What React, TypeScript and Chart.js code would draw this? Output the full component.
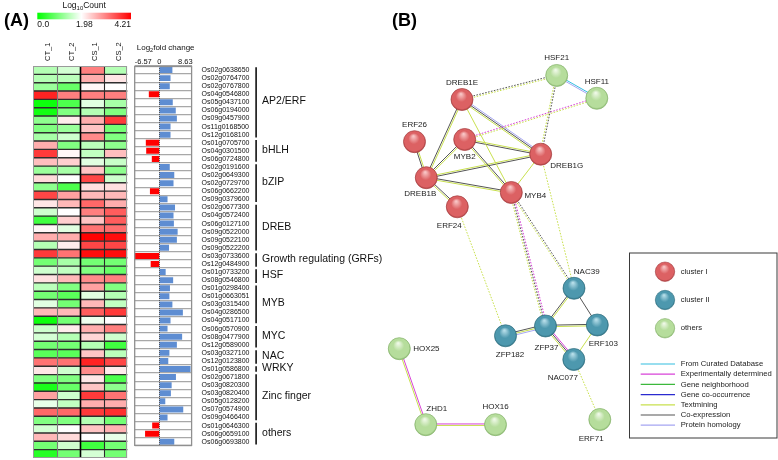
import React, { useEffect, useRef } from "react";
import { Chart, registerables } from "chart.js";
Chart.register(...registerables);

const FONT = "'Liberation Sans', Arial, Helvetica, sans-serif";
Chart.defaults.font.family = FONT;

// ---------- Panel A data ----------
const genes = [
  "Os02g0638650","Os02g0764700","Os02g0767800","Os04g0546800","Os05g0437100","Os06g0194000","Os09g0457900","Os11g0168500","Os12g0168100",
  "Os01g0705700","Os04g0301500","Os06g0724800",
  "Os02g0191600","Os02g0649300","Os02g0729700","Os06g0662200","Os09g0379600",
  "Os02g0677300","Os04g0572400","Os06g0127100","Os09g0522000","Os09g0522100","Os09g0522200",
  "Os03g0733600","Os12g0484900",
  "Os01g0733200","Os08g0546800",
  "Os01g0298400","Os01g0663051","Os03g0315400","Os04g0286500","Os04g0517100",
  "Os06g0570900","Os08g0477900","Os12g0589000",
  "Os03g0327100","Os12g0123800",
  "Os01g0586800",
  "Os02g0671800","Os03g0820300","Os03g0820400","Os05g0128200","Os07g0574900","Os09g0466400",
  "Os01g0646300","Os06g0659100","Os06g0693800",
];
const sampleLabels = ["CT_1", "CT_2", "CS_1", "CS_2"];
const ct1 = [1.4,1.4,1.2,3.9,0.1,0.15,1.1,1.0,1.3, 2.7,3.7,2.55, 1.2,2.3,1.1,3.6,2.2, 1.6,0.5,2.05,2.7,1.4,3.7, 0.9,1.6, 2.25,1.45, 0.9,1.75,2.6,0.1,1.6, 1.65,0.9,0.7, 3.2,2.2, 1.0, 0.2,2.8,1.8,3.3,1.0,1.65, 2.6,0.9,0.3];
const ct2 = [1.65,1.45,0.8,3.1,0.6,1.0,2.15,1.2,1.6, 1.0,2.05,2.4, 1.3,1.98,0.6,2.8,2.6, 1.98,2.4,1.75,2.7,2.15,3.2, 1.3,1.5, 2.6,1.0, 0.7,0.9,2.6,0.9,2.15, 1.4,0.9,0.7, 3.2,1.6, 1.0, 0.8,1.6,1.5,3.3,1.0,1.98, 2.3,1.6,0.9];
const cs1 = [3.1,2.7,2.05,3.1,1.75,1.4,2.7,2.5,3.0, 1.45,1.5,1.75, 2.5,3.6,2.25,2.6,3.3, 3.1,2.5,3.2,4.2,3.6,4.1, 0.9,1.0, 3.0,2.8, 1.75,2.6,3.4,1.85,2.7, 2.35,1.4,2.5, 3.9,3.0, 2.2, 2.5,3.7,2.7,3.7,1.4,2.5, 1.98,0.5,1.65];
const cs2 = [1.4,2.2,1.98,3.1,1.3,1.0,3.7,0.9,1.0, 1.1,2.55,1.55, 1.1,1.6,2.25,2.6,2.7, 3.4,3.4,3.25,4.1,3.6,4.1, 0.9,0.8, 3.1,1.0, 1.4,1.5,3.7,1.98,3.1, 1.6,0.5,1.45, 3.6,2.15, 0.6, 1.1,3.2,2.7,3.8,0.9,2.65, 1.8,0.9,0.9];
const foldChange = [3.5,3.0,2.8,-2.8,3.6,4.4,4.7,3.0,3.0, -3.6,-3.5,-2.0, 2.8,4.0,3.8,-2.5,2.2, 4.2,3.8,3.9,4.9,4.7,2.6, -6.57,-2.3, 1.7,3.7, 2.85,2.7,3.5,6.3,3.0, 2.2,6.1,4.7, 2.7,2.4, 8.35, 4.45,3.3,3.1,1.6,6.4,2.2, -1.9,-3.8,4.0];
const groupNames = ["AP2/ERF","bHLH","bZIP","DREB","Growth regulating (GRFs)","HSF","MYB","MYC","NAC","WRKY","Zinc finger","others"];
const groupSizes = [9,3,5,6,2,2,5,3,2,1,6,3];
const countMin = 0, countMid = 1.98, countMax = 4.21;
const countTickLabels = ["0.0", "1.98", "4.21"];
const foldMin = -6.57, foldMax = 8.63;
const foldTickLabels = ["-6.57", "0", "8.63"];

// ---------- Panel B data ----------
const nodeNames = ["HSF21","HSF11","DREB1E","ERF26","MYB2","DREB1G","DREB1B","ERF24","MYB4","NAC39","ERF103","ZFP37","ZFP182","NAC077","HOX25","ZHD1","HOX16","ERF71"];
const nodeX = [556.7,596.8,462,414.5,464.7,540.7,426.3,457.3,511.3,574,597.3,545.5,505.5,573.8,399.3,425.8,495.5,599.8];
const nodeY = [75.5,98.3,99.5,141.7,139.5,154.2,177.7,206.8,192.5,288.3,325,326,335.8,359.5,348.7,424.7,424.7,419.5];
const nodeCluster = [2,2,0,0,0,0,0,0,0,1,1,1,1,1,2,2,2,2];
const clusterNames = ["cluster I", "cluster II", "others"];
// [from, to, evidence channels, dotted]
const edges: [string, string, string, boolean][] = [
  ["DREB1E","HSF21","xt",true],
  ["HSF21","HSF11","ch",false],
  ["HSF21","DREB1G","xt",true],
  ["MYB2","HSF11","et",true],
  ["DREB1E","DREB1G","hxt",false],
  ["DREB1E","DREB1B","tx",false],
  ["DREB1E","MYB4","t",false],
  ["MYB2","DREB1G","tx",false],
  ["MYB2","MYB4","xt",false],
  ["MYB2","DREB1B","tx",false],
  ["DREB1B","DREB1G","tx",false],
  ["DREB1B","MYB4","xt",false],
  ["DREB1B","ERF26","xt",false],
  ["DREB1B","ERF24","xt",false],
  ["DREB1G","MYB4","t",false],
  ["DREB1G","NAC39","t",true],
  ["MYB4","ZFP37","ext",true],
  ["MYB4","NAC39","xt",true],
  ["ERF24","ZFP182","t",true],
  ["NAC39","ZFP37","tx",false],
  ["NAC39","ERF103","x",false],
  ["ZFP37","ERF103","xt",false],
  ["ZFP37","ZFP182","htx",false],
  ["ZFP37","NAC077","ext",false],
  ["ERF103","NAC077","t",false],
  ["NAC077","ERF71","t",true],
  ["HOX25","ZHD1","et",false],
  ["ZHD1","HOX16","et",false],
];
const evidenceKeys = ["c","e","n","o","t","x","h"];
const evidenceNames = ["From Curated Database","Experimentally determined","Gene neighborhood","Gene co-occurrence","Textmining","Co-expression","Protein homology"];
const evidenceColors = ["#33bde0","#d843d8","#3cb83c","#2b2bd0","#c8e04e","#555555","#a6a6f2"];

// ---------- styles ----------
const sphereStyles = [
  { light: "#f8c4c4", base: "#dc6163", dark: "#a83d3f" },
  { light: "#b5dde8", base: "#4d98ae", dark: "#2e6e80" },
  { light: "#eef8e6", base: "#b6dd9c", dark: "#86b46c" },
];

function heatColor(v: number) {
  if (v <= countMid) {
    const t = Math.max(0, (v - countMin) / (countMid - countMin));
    const c = Math.round(255 * t);
    return `rgb(${c},255,${c})`;
  }
  const t = Math.min(1, (v - countMid) / (countMax - countMid));
  const c = Math.round(255 * (1 - t));
  return `rgb(255,${c},${c})`;
}

function sphereGradient(ctx: CanvasRenderingContext2D, x: number, y: number, r: number, s: { light: string; base: string; dark: string }) {
  const g = ctx.createRadialGradient(x - r * 0.1, y - r * 0.5, r * 0.05, x, y, r * 1.05);
  g.addColorStop(0, s.light);
  g.addColorStop(0.45, s.base);
  g.addColorStop(0.85, s.base);
  g.addColorStop(1, s.dark);
  return g;
}

function drawRich(ctx: CanvasRenderingContext2D, parts: { t: string; sub?: boolean }[], x: number, y: number, size: number, align: "center" | "left") {
  const widths = parts.map((p) => {
    ctx.font = `${p.sub ? size * 0.7 : size}px ${FONT}`;
    return ctx.measureText(p.t).width;
  });
  const total = widths.reduce((a, b) => a + b, 0);
  let cx = align === "center" ? x - total / 2 : x;
  ctx.textAlign = "left";
  ctx.textBaseline = "alphabetic";
  parts.forEach((p, i) => {
    ctx.font = `${p.sub ? size * 0.7 : size}px ${FONT}`;
    ctx.fillText(p.t, cx, p.sub ? y + size * 0.28 : y);
    cx += widths[i];
  });
}

function line(ctx: CanvasRenderingContext2D, x1: number, y1: number, x2: number, y2: number) {
  ctx.beginPath();
  ctx.moveTo(x1, y1);
  ctx.lineTo(x2, y2);
  ctx.stroke();
}

// ---------- plugins ----------
const heatDecor = {
  id: "heatDecor",
  afterDatasetsDraw(chart: any) {
    const ctx = chart.ctx;
    const a = chart.chartArea;
    const xs = chart.scales.x;
    const n = genes.length;
    const rowH = (a.bottom - a.top) / n;
    ctx.save();
    ctx.setLineDash([]);
    ctx.strokeStyle = "#2e2e2e";
    ctx.lineWidth = 1.4;
    ctx.beginPath();
    for (let i = 1; i < n; i++) {
      const yy = a.top + i * rowH;
      ctx.moveTo(a.left, yy);
      ctx.lineTo(a.right, yy);
    }
    ctx.stroke();
    const colStyles = ["", "#7a7a7a", "#000000", "#2a2a2a"];
    for (let j = 1; j < sampleLabels.length; j++) {
      const xx = Math.round(xs.getPixelForValue(j)) + 0.5;
      ctx.lineWidth = j === 2 ? 1.6 : 1.1;
      ctx.strokeStyle = colStyles[j];
      line(ctx, xx, a.top, xx, a.bottom);
    }
    ctx.strokeStyle = "#9a9a9a";
    ctx.lineWidth = 1;
    ctx.strokeRect(Math.round(a.left) + 0.5, Math.round(a.top) + 0.5, Math.round(a.right - a.left) - 1, Math.round(a.bottom - a.top) - 1);
    ctx.restore();
  },
  afterDraw(chart: any) {
    const { ctx, scales } = chart;
    const xs = scales.x;
    ctx.save();
    ctx.fillStyle = "#000";
    ctx.font = `bold 18px ${FONT}`;
    ctx.textAlign = "left";
    ctx.textBaseline = "alphabetic";
    ctx.fillText("(A)", 4, 26);
    const x0 = 37.3, x1 = 131, y0 = 12.7, y1 = 19.3;
    const g = ctx.createLinearGradient(x0, 0, x1, 0);
    g.addColorStop(0, heatColor(countMin));
    g.addColorStop((countMid - countMin) / (countMax - countMin), heatColor(countMid));
    g.addColorStop(1, heatColor(countMax));
    ctx.fillStyle = g;
    ctx.fillRect(x0, y0, x1 - x0, y1 - y0);
    ctx.fillStyle = "#111";
    drawRich(ctx, [{ t: "Log" }, { t: "10", sub: true }, { t: "Count" }], (x0 + x1) / 2, 7.5, 8.5, "center");
    ctx.font = `8.5px ${FONT}`;
    ctx.textBaseline = "alphabetic";
    const vals = [countMin, countMid, countMax];
    vals.forEach((v, i) => {
      const px = x0 + ((v - countMin) / (countMax - countMin)) * (x1 - x0);
      ctx.textAlign = i === 0 ? "left" : i === 2 ? "right" : "center";
      ctx.fillText(countTickLabels[i], i === 1 ? px + 3 : px, 27);
    });
    ctx.font = `7.5px ${FONT}`;
    ctx.textAlign = "left";
    ctx.textBaseline = "middle";
    sampleLabels.forEach((s, j) => {
      const cx = xs.getPixelForValue(j + 0.5) + 3;
      ctx.save();
      ctx.translate(cx, 61);
      ctx.rotate(-Math.PI / 2);
      ctx.fillText(s, 0, 0);
      ctx.restore();
    });
    ctx.restore();
  },
};

const foldDecor = {
  id: "foldDecor",
  afterDatasetsDraw(chart: any) {
    const { ctx, chartArea: a, scales } = chart;
    const z = scales.x.getPixelForValue(0);
    ctx.save();
    ctx.strokeStyle = "#555";
    ctx.lineWidth = 1;
    ctx.setLineDash([1, 1]);
    line(ctx, Math.round(z) + 0.5, a.top, Math.round(z) + 0.5, a.bottom);
    ctx.setLineDash([]);
    ctx.strokeStyle = "#8f8f8f";
    ctx.lineWidth = 1.3;
    ctx.strokeRect(a.left, a.top + 0.5, a.right - a.left, a.bottom - a.top - 1);
    ctx.restore();
  },
  afterDraw(chart: any) {
    const { ctx, chartArea: a, scales } = chart;
    const xs = scales.x;
    const n = genes.length;
    const rowH = (a.bottom - a.top) / n;
    ctx.save();
    ctx.fillStyle = "#111";
    drawRich(ctx, [{ t: "Log" }, { t: "2", sub: true }, { t: "fold change" }], (a.left + a.right) / 2 + 2.5, 50, 8, "center");
    ctx.font = `7.5px ${FONT}`;
    ctx.textBaseline = "alphabetic";
    ctx.textAlign = "left";
    ctx.fillText(foldTickLabels[0], xs.getPixelForValue(foldMin), 64);
    ctx.textAlign = "center";
    ctx.fillText(foldTickLabels[1], xs.getPixelForValue(0), 64);
    ctx.textAlign = "right";
    ctx.fillText(foldTickLabels[2], xs.getPixelForValue(foldMax) + 1, 64);
    const bx = a.right + 64.5;
    let start = 0;
    ctx.strokeStyle = "#000";
    ctx.lineWidth = 1.5;
    ctx.font = `10.5px ${FONT}`;
    ctx.textAlign = "left";
    ctx.textBaseline = "middle";
    groupSizes.forEach((cnt, gi) => {
      const top = a.top + start * rowH + 1.3;
      const bot = a.top + (start + cnt) * rowH - 1.3;
      line(ctx, bx, top, bx, bot);
      ctx.fillText(groupNames[gi], bx + 6, (top + bot) / 2 - 1);
      start += cnt;
    });
    ctx.restore();
  },
};

const NET_LEFT = 380;
const labelOffsets: Record<string, [number, number, string]> = {
  HSF21: [0, -17.5, "center"], HSF11: [0, -17, "center"], DREB1E: [0, -17, "center"], ERF26: [0, -17, "center"],
  MYB2: [0, 17.5, "center"], DREB1G: [26, 11.5, "center"], DREB1B: [-6, 16.5, "center"], ERF24: [-8, 18.5, "center"],
  MYB4: [24, 3.5, "center"], NAC39: [12.7, -16.5, "center"], ERF103: [6, 18.3, "center"], ZFP37: [1, 21.5, "center"],
  ZFP182: [4.5, 19, "center"], NAC077: [-11, 18, "center"], HOX25: [14, 0, "left"], ZHD1: [11, -15.5, "center"],
  HOX16: [0, -17.5, "center"], ERF71: [-8.6, 19.2, "center"],
};

const netDecor = {
  id: "netDecor",
  afterDatasetsDraw(chart: any) {
    const { ctx, scales } = chart;
    const xs = scales.x, ys = scales.y;
    ctx.save();
    ctx.fillStyle = "#222";
    ctx.font = `8px ${FONT}`;
    ctx.textBaseline = "middle";
    nodeNames.forEach((n, i) => {
      const [dx, dy, al] = labelOffsets[n];
      ctx.textAlign = al as CanvasTextAlign;
      ctx.fillText(n, xs.getPixelForValue(nodeX[i]) + dx, ys.getPixelForValue(nodeY[i]) + dy);
    });
    ctx.restore();
  },
  afterDraw(chart: any) {
    const { ctx } = chart;
    ctx.save();
    ctx.translate(-NET_LEFT, 0);
    ctx.fillStyle = "#000";
    ctx.font = `bold 18px ${FONT}`;
    ctx.textAlign = "left";
    ctx.textBaseline = "alphabetic";
    ctx.fillText("(B)", 392, 26);
    ctx.strokeStyle = "#3a3a3a";
    ctx.lineWidth = 1;
    ctx.strokeRect(629.5, 253, 147.5, 185);
    ctx.font = `7.7px ${FONT}`;
    ctx.textBaseline = "middle";
    clusterNames.forEach((c, i) => {
      const cy = 271.7 + i * 28.3;
      ctx.beginPath();
      ctx.arc(665, cy, 9.7, 0, Math.PI * 2);
      ctx.fillStyle = sphereGradient(ctx, 665, cy, 9.7, sphereStyles[i]);
      ctx.fill();
      ctx.strokeStyle = sphereStyles[i].dark;
      ctx.lineWidth = 0.6;
      ctx.stroke();
      ctx.fillStyle = "#222";
      ctx.fillText(c, 680.7, cy);
    });
    evidenceNames.forEach((nm, i) => {
      const y = 364 + i * 10.2;
      ctx.strokeStyle = evidenceColors[i];
      ctx.lineWidth = 1.2;
      line(ctx, 640.7, y, 675, y);
      ctx.fillStyle = "#222";
      ctx.fillText(nm, 680.7, y);
    });
    ctx.restore();
  },
};

export default function App() {
  const heatRef = useRef<HTMLCanvasElement>(null);
  const foldRef = useRef<HTMLCanvasElement>(null);
  const netRef = useRef<HTMLCanvasElement>(null);

  useEffect(() => {
    const samples = [ct1, ct2, cs1, cs2];
    const heat = new Chart(heatRef.current!, {
      type: "bar",
      data: {
        labels: genes,
        datasets: sampleLabels.map((s, i) => ({
          label: s,
          data: genes.map(() => 1),
          backgroundColor: samples[i].map(heatColor),
          borderWidth: 0,
          barPercentage: 1,
          categoryPercentage: 1,
        })),
      },
      options: {
        indexAxis: "y",
        animation: false,
        responsive: false,
        events: [],
        layout: { autoPadding: false, padding: { left: 33.3, right: 200 - 127.3, top: 66, bottom: 2 } },
        scales: {
          x: { stacked: true, min: 0, max: sampleLabels.length, display: false },
          y: { stacked: true, display: false },
        },
        plugins: { legend: { display: false }, tooltip: { enabled: false } },
      },
      plugins: [heatDecor],
    } as any);

    const FOLD_W = 270;
    const fold = new Chart(foldRef.current!, {
      type: "bar",
      data: {
        labels: genes,
        datasets: [
          {
            label: "Log2 fold change",
            data: foldChange,
            backgroundColor: foldChange.map((v) => (v < 0 ? "#ff0000" : "#5e8dd2")),
            borderWidth: 0,
            barPercentage: 0.74,
            categoryPercentage: 1,
          },
        ],
      },
      options: {
        indexAxis: "y",
        animation: false,
        responsive: false,
        events: [],
        layout: { autoPadding: false, padding: { left: 6.7, right: 0, top: 66, bottom: 2 } },
        scales: {
          x: { min: foldMin, max: foldMax, display: false },
          y: {
            position: "right",
            grid: { offset: true, drawTicks: false, color: "#a8a8a8", lineWidth: 1.3 },
            border: { display: false },
            ticks: { autoSkip: false, padding: 10, color: "#111", font: { size: 7, family: FONT } },
            afterFit: (s: any) => {
              s.width = FOLD_W - 63.6;
            },
          },
        },
        plugins: { legend: { display: false }, tooltip: { enabled: false } },
      },
      plugins: [foldDecor],
    } as any);

    const nodeIndex: Record<string, number> = {};
    nodeNames.forEach((n, i) => (nodeIndex[n] = i));
    const edgeSets: any[] = [];
    edges.forEach(([a, b, ch, dotted]) => {
      const i = nodeIndex[a], j = nodeIndex[b];
      const x1 = nodeX[i], y1 = nodeY[i], x2 = nodeX[j], y2 = nodeY[j];
      const len = Math.hypot(x2 - x1, y2 - y1);
      const nx = -(y2 - y1) / len, ny = (x2 - x1) / len;
      const k = ch.length;
      ch.split("").forEach((c, m) => {
        const off = (m - (k - 1) / 2) * 1.5;
        edgeSets.push({
          label: `${a}-${b}-${c}`,
          data: [
            { x: x1 + nx * off, y: y1 + ny * off },
            { x: x2 + nx * off, y: y2 + ny * off },
          ],
          showLine: true,
          pointRadius: 0,
          borderColor: evidenceColors[evidenceKeys.indexOf(c)],
          borderWidth: 1,
          borderDash: dotted ? [1.6, 1.4] : [],
          order: 2,
          clip: false,
        });
      });
    });
    const nodeSet = {
      label: "proteins",
      data: nodeNames.map((n, i) => ({ x: nodeX[i], y: nodeY[i] })),
      pointRadius: 11,
      pointHoverRadius: 11,
      borderWidth: 0.7,
      backgroundColor: (c: any) => {
        const i = c.dataIndex;
        if (i === undefined) return "#cccccc";
        const st = sphereStyles[nodeCluster[i]];
        const xs = c.chart.scales && c.chart.scales.x, ys = c.chart.scales && c.chart.scales.y;
        if (!xs || !ys) return st.base;
        const px = xs.getPixelForValue(nodeX[i]), py = ys.getPixelForValue(nodeY[i]);
        if (!Number.isFinite(px) || !Number.isFinite(py)) return st.base;
        return sphereGradient(c.chart.ctx, px, py, 11, st);
      },
      borderColor: (c: any) => (c.dataIndex === undefined ? "#888888" : sphereStyles[nodeCluster[c.dataIndex]].dark),
      order: 0,
      clip: false,
    };
    const net = new Chart(netRef.current!, {
      type: "scatter",
      data: { datasets: [nodeSet, ...edgeSets] },
      options: {
        animation: false,
        responsive: false,
        events: [],
        layout: { autoPadding: false, padding: 0 },
        scales: {
          x: { type: "linear", min: NET_LEFT, max: 778, display: false },
          y: { type: "linear", min: 0, max: 460, reverse: true, display: false },
        },
        plugins: { legend: { display: false }, tooltip: { enabled: false } },
      },
      plugins: [netDecor],
    } as any);

    return () => {
      heat.destroy();
      fold.destroy();
      net.destroy();
    };
  }, []);

  return (
    <div style={{ position: "absolute", left: 0, top: 0, width: 778, height: 460, background: "#fff", overflow: "hidden" }}>
      <canvas ref={heatRef} width={200} height={460} style={{ position: "absolute", left: 0, top: 0, width: 200, height: 460 }} />
      <canvas ref={foldRef} width={270} height={460} style={{ position: "absolute", left: 128, top: 0, width: 270, height: 460 }} />
      <canvas ref={netRef} width={398} height={460} style={{ position: "absolute", left: NET_LEFT, top: 0, width: 398, height: 460 }} />
    </div>
  );
}
